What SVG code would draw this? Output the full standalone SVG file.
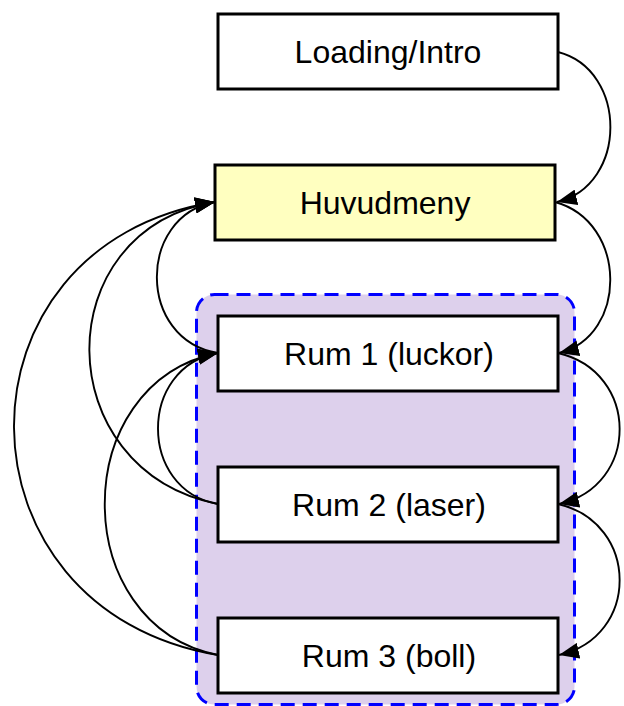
<svg xmlns="http://www.w3.org/2000/svg" width="624" height="706" viewBox="0 0 624 706">
  <style>
    .box { stroke: #000; stroke-width: 3; fill: #fff; }
    .menu { fill: #ffffc0; }
    .lbl { font-family: "Liberation Sans", Arial, sans-serif; font-size: 32px; fill: #000; text-anchor: middle; }
    .edge { fill: none; stroke: #000; stroke-width: 1.9; marker-end: url(#arrow); }
  </style>
  <defs>
    <marker id="arrow" markerUnits="userSpaceOnUse" markerWidth="20" markerHeight="16" viewBox="0 0 20 16" refX="20" refY="8" orient="auto">
      <path d="M0,0 L20,8 L0,16 Z" fill="#000"/>
    </marker>
  </defs>

  <!-- room cluster -->
  <g id="rooms">
    <rect x="196.5" y="294.5" width="378" height="410" rx="18" ry="18" fill="#ddd0ec" stroke="#0000ff" stroke-width="3" stroke-dasharray="14,8"/>
  </g>

  <g id="connectors">
    <!-- right side, forward flow -->
    <path class="edge" d="M558,52 C628,70 628,185 557,202"/>
    <path class="edge" d="M555,202 C628,222 628,336 559,353"/>
    <path class="edge" d="M558,353 C640,372 640,486 559,504"/>
    <path class="edge" d="M558,504 C640,523 640,637 559,655"/>
    <!-- left side, back to menu -->
    <path class="edge" d="M218,353 C137,340 137,216 215,202"/>
    <path class="edge" d="M218,504 C48,470 46,230 215,202"/>
    <path class="edge" d="M218,655 C-52,610 -55,245 215,202"/>
    <!-- left side, back to room 1 -->
    <path class="edge" d="M218,504 C138,490 138,367 218,353"/>
    <path class="edge" d="M218,655 C67,625 67,383 218,353"/>
  </g>

  <g id="loading">
    <rect class="box" x="218" y="14" width="340" height="75"/>
    <text class="lbl" x="388" y="63">Loading/Intro</text>
  </g>
  <g id="huvudmeny">
    <rect class="box menu" x="215" y="165" width="340" height="75"/>
    <text class="lbl" x="385" y="214">Huvudmeny</text>
  </g>
  <g id="rum1">
    <rect class="box" x="218" y="316" width="340" height="75"/>
    <text class="lbl" x="389" y="365">Rum 1 (luckor)</text>
  </g>
  <g id="rum2">
    <rect class="box" x="218" y="467" width="340" height="75"/>
    <text class="lbl" x="389" y="516">Rum 2 (laser)</text>
  </g>
  <g id="rum3">
    <rect class="box" x="218" y="618" width="340" height="75"/>
    <text class="lbl" x="389" y="667">Rum 3 (boll)</text>
  </g>
</svg>
